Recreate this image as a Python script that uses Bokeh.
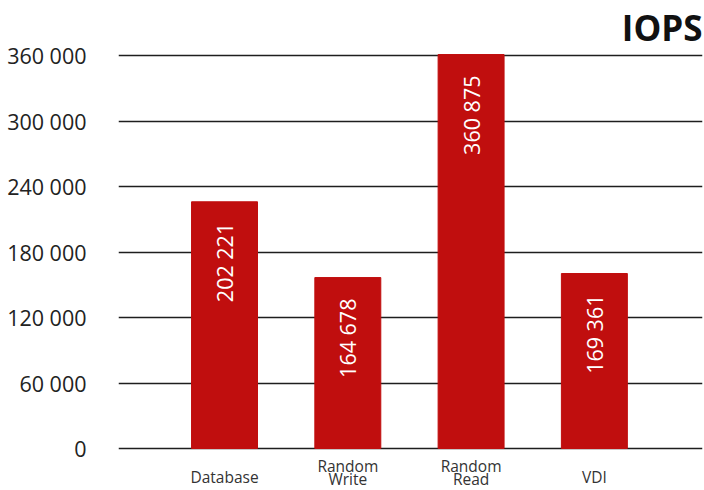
import math
from bokeh.plotting import figure
from bokeh.models import FixedTicker, Range1d, ColumnDataSource
from bokeh.embed import file_html
from bokeh.resources import INLINE
from bokeh.core.properties import value

categories = ["Database", "Random\nWrite", "Random\nRead", "VDI"]
bar_heights = [226000, 156600, 360900, 160300]
value_labels = ["202 221", "164 678", "360 875", "169 361"]
y_ticks = [0, 60000, 120000, 180000, 240000, 300000, 360000]
y_tick_labels = ["0", "60 000", "120 000", "180 000", "240 000", "300 000", "360 000"]
title_text = "IOPS"

FONT = "Open Sans"
xs = list(range(len(categories)))
src = ColumnDataSource(dict(x=xs, top=bar_heights, label=value_labels))

X_START, X_END = -0.86, 3.877
Y_START, Y_END = -38470, 410400

p = figure(width=704, height=490, output_backend="svg", toolbar_location=None,
           title=None, x_axis_location=None,
           x_range=Range1d(X_START, X_END), y_range=Range1d(Y_START, Y_END),
           min_border_left=118, min_border_right=2, min_border_bottom=0,
           min_border_top=0)
p.outline_line_color = None
p.background_fill_color = "white"
p.border_fill_color = "white"

p.xgrid.visible = False
p.ygrid.ticker = FixedTicker(ticks=y_ticks)
p.ygrid.grid_line_color = "#1e1e1e"
p.ygrid.grid_line_width = 1.4

p.vbar(x="x", top="top", width=0.535, bottom=0, color="#C00E0E", source=src)

p.text(x="x", y="top", text="label", angle=math.pi / 2, text_align="right",
       text_baseline="middle", y_offset=21, text_color="white",
       text_font=value(FONT), text_font_size="21.5px", source=src)

p.yaxis.ticker = FixedTicker(ticks=y_ticks)
p.yaxis.major_label_overrides = dict(zip(y_ticks, y_tick_labels))
p.yaxis.axis_line_color = None
p.yaxis.major_tick_line_color = None
p.yaxis.minor_tick_line_color = None
p.yaxis.major_label_standoff = 26
p.yaxis.major_label_text_font = FONT
p.yaxis.major_label_text_font_size = "21.5px"
p.yaxis.major_label_text_color = "#222222"

# title (top right, inside the drawing area)
p.text(x=[X_END], y=[Y_END], text=[title_text], text_align="right",
       text_baseline="alphabetic", y_offset=26.5,
       text_font=value(FONT), text_font_size="35px",
       text_font_style="bold", text_color="#111111")

# category labels under the bars (multi-line labels split into lines)
cx, cy, ctext, coff = [], [], [], []
for xi, cat in zip(xs, categories):
    lines = cat.split("\n")
    n = len(lines)
    for j, line in enumerate(lines):
        cx.append(xi)
        cy.append(0)
        ctext.append(line)
        coff.append(28 if n == 1 else 17 + j * 13.5)
csrc = ColumnDataSource(dict(x=cx, y=cy, text=ctext, off=coff))
p.text(x="x", y="y", text="text", y_offset="off", text_align="center",
       text_baseline="middle", text_font=value(FONT),
       text_font_size="15.5px", text_color="#333333", source=csrc)

open("out.html", "w").write(file_html(p, INLINE))
